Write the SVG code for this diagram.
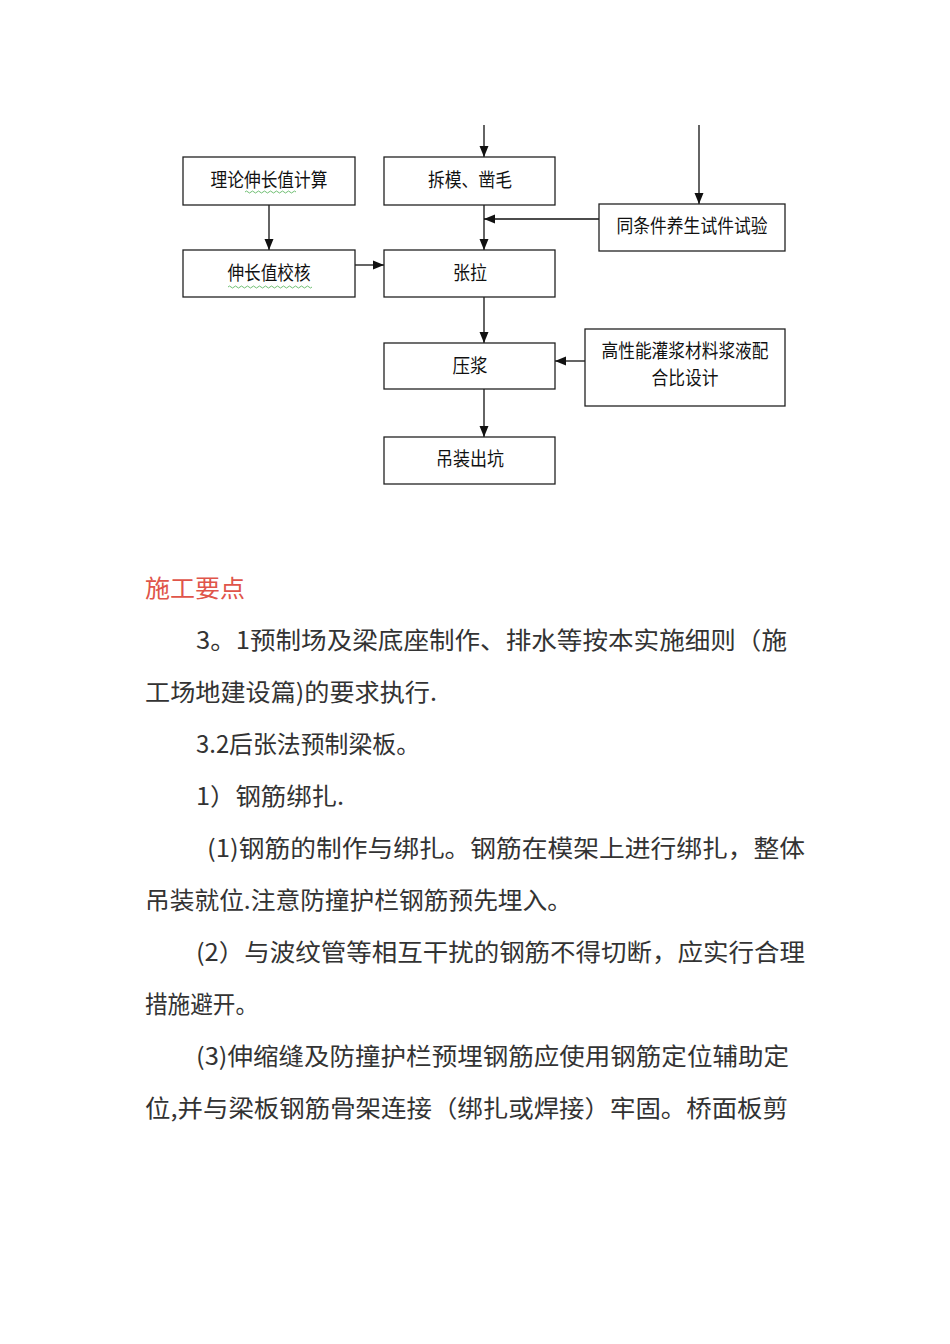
<svg xmlns="http://www.w3.org/2000/svg" width="950" height="1344" viewBox="0 0 950 1344">
<defs>
<marker id="ah" markerUnits="userSpaceOnUse" markerWidth="12" markerHeight="12" viewBox="0 0 12 12" refX="11" refY="6" orient="auto">
<path d="M0,1.5 L11,6 L0,10.5 Z" fill="#111"/>
</marker>
<style>
.box{fill:#fff;stroke:#222;stroke-width:1.3}
.fl{font-family:"Noto Sans CJK SC","Noto Sans CJK JP",sans-serif;font-size:19px;fill:#111;text-anchor:middle}
.cn{stroke:#111;stroke-width:1.3;fill:none;marker-end:url(#ah)}
.body{font-family:"Noto Sans CJK SC","Noto Sans CJK JP",sans-serif;font-size:24px;fill:#333}
.head{font-family:"Noto Sans CJK SC","Noto Sans CJK JP",sans-serif;font-size:24px;fill:#e0554a}
.wave{fill:none;stroke:#4caf50;stroke-width:0.8}
</style>
</defs>
<rect width="950" height="1344" fill="#fff"/>

<g id="connectors">
<line class="cn" x1="484" y1="125" x2="484" y2="157"/>
<line class="cn" x1="699" y1="125" x2="699" y2="204"/>
<line class="cn" x1="269" y1="205" x2="269" y2="250"/>
<line class="cn" x1="355" y1="265" x2="384" y2="265"/>
<line class="cn" x1="484" y1="205" x2="484" y2="250"/>
<line class="cn" x1="599" y1="219" x2="484" y2="219"/>
<line class="cn" x1="484" y1="297" x2="484" y2="343"/>
<line class="cn" x1="585" y1="361" x2="555" y2="361"/>
<line class="cn" x1="484" y1="389" x2="484" y2="437"/>
</g>

<g id="n_calc">
<rect class="box" x="183" y="157" width="172" height="48"/>
<text class="fl" x="269" y="187" textLength="117" lengthAdjust="spacingAndGlyphs">理论伸长值计算</text>
<path class="wave" d="M245,192 q1.5,-2 3,0 t3,0 t3,0 t3,0 t3,0 t3,0 t3,0 t3,0 t3,0 t3,0 t3,0 t3,0 t3,0 t3,0 t3,0 t3,0 t3,0"/>
</g>
<g id="n_demold">
<rect class="box" x="384" y="157" width="171" height="48"/>
<text class="fl" x="470" y="187" textLength="84" lengthAdjust="spacingAndGlyphs">拆模、凿毛</text>
</g>
<g id="n_test">
<rect class="box" x="599" y="204" width="186" height="47"/>
<text class="fl" x="692" y="233" textLength="151" lengthAdjust="spacingAndGlyphs">同条件养生试件试验</text>
</g>
<g id="n_check">
<rect class="box" x="183" y="250" width="172" height="47"/>
<text class="fl" x="269" y="280" textLength="83" lengthAdjust="spacingAndGlyphs">伸长值校核</text>
<path class="wave" d="M228,287 q1.5,-2 3,0 t3,0 t3,0 t3,0 t3,0 t3,0 t3,0 t3,0 t3,0 t3,0 t3,0 t3,0 t3,0 t3,0 t3,0 t3,0 t3,0 t3,0 t3,0 t3,0 t3,0 t3,0 t3,0 t3,0 t3,0 t3,0 t3,0 t3,0"/>
</g>
<g id="n_tension">
<rect class="box" x="384" y="250" width="171" height="47"/>
<text class="fl" x="470" y="280" textLength="34" lengthAdjust="spacingAndGlyphs">张拉</text>
</g>
<g id="n_grout">
<rect class="box" x="384" y="343" width="171" height="46"/>
<text class="fl" x="470" y="373" textLength="35" lengthAdjust="spacingAndGlyphs">压浆</text>
</g>
<g id="n_mix">
<rect class="box" x="585" y="329" width="200" height="77"/>
<text class="fl" x="685" y="358" textLength="167" lengthAdjust="spacingAndGlyphs">高性能灌浆材料浆液配</text>
<text class="fl" x="685" y="385" textLength="67" lengthAdjust="spacingAndGlyphs">合比设计</text>
</g>
<g id="n_lift">
<rect class="box" x="384" y="437" width="171" height="47"/>
<text class="fl" x="470" y="466" textLength="68" lengthAdjust="spacingAndGlyphs">吊装出坑</text>
</g>

<g id="body_text">
<text class="head" x="145" y="597" textLength="100" lengthAdjust="spacingAndGlyphs">施工要点</text>
<text class="body" x="196" y="649" textLength="591" lengthAdjust="spacingAndGlyphs">3。1预制场及梁底座制作、排水等按本实施细则（施</text>
<text class="body" x="145" y="701" textLength="292" lengthAdjust="spacingAndGlyphs">工场地建设篇)的要求执行.</text>
<text class="body" x="196" y="753" textLength="224" lengthAdjust="spacingAndGlyphs">3.2后张法预制梁板。</text>
<text class="body" x="196" y="805" textLength="148" lengthAdjust="spacingAndGlyphs">1）钢筋绑扎.</text>
<text class="body" x="207" y="857" textLength="598" lengthAdjust="spacingAndGlyphs">(1)钢筋的制作与绑扎。钢筋在模架上进行绑扎，整体</text>
<text class="body" x="145" y="909" textLength="427" lengthAdjust="spacingAndGlyphs">吊装就位.注意防撞护栏钢筋预先埋入。</text>
<text class="body" x="196" y="961" textLength="609" lengthAdjust="spacingAndGlyphs">(2）与波纹管等相互干扰的钢筋不得切断，应实行合理</text>
<text class="body" x="145" y="1013" textLength="113" lengthAdjust="spacingAndGlyphs">措施避开。</text>
<text class="body" x="196" y="1065" textLength="593" lengthAdjust="spacingAndGlyphs">(3)伸缩缝及防撞护栏预埋钢筋应使用钢筋定位辅助定</text>
<text class="body" x="145" y="1117" textLength="643" lengthAdjust="spacingAndGlyphs">位,并与梁板钢筋骨架连接（绑扎或焊接）牢固。桥面板剪</text>
</g>
</svg>
